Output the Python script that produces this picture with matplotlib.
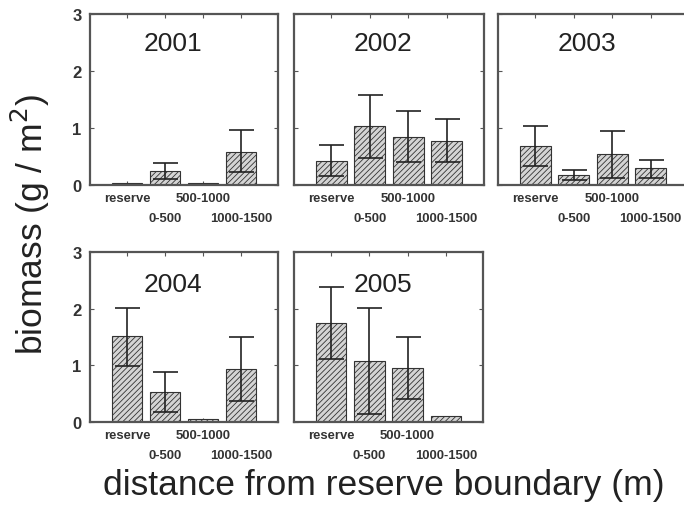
import matplotlib
matplotlib.use("Agg")
import matplotlib.pyplot as plt

plt.rcParams['font.family'] = ['Liberation Sans', 'DejaVu Sans']
plt.rcParams['hatch.linewidth'] = 0.6

# data
years = ['2001', '2002', '2003', '2004', '2005']
categories = ['reserve', '0-500', '500-1000', '1000-1500']
means = {
    '2001': [0.04, 0.25, 0.03, 0.58],
    '2002': [0.42, 1.03, 0.85, 0.78],
    '2003': [0.68, 0.17, 0.55, 0.29],
    '2004': [1.51, 0.53, 0.06, 0.93],
    '2005': [1.75, 1.07, 0.96, 0.11],
}
err_hi = {
    '2001': [0.00, 0.38, 0.00, 0.97],
    '2002': [0.71, 1.58, 1.30, 1.15],
    '2003': [1.04, 0.27, 0.94, 0.43],
    '2004': [2.02, 0.89, 0.00, 1.50],
    '2005': [2.38, 2.02, 1.50, 0.00],
}
err_lo = {
    '2001': [0.00, 0.10, 0.00, 0.22],
    '2002': [0.16, 0.47, 0.40, 0.40],
    '2003': [0.33, 0.09, 0.12, 0.12],
    '2004': [0.99, 0.18, 0.00, 0.37],
    '2005': [1.12, 0.14, 0.41, 0.00],
}

W, H = 684, 506
fig = plt.figure(figsize=(W / 100, H / 100), dpi=100)

# panel boxes in pixels: left, top, right, bottom
boxes = {
    '2001': (90, 15, 278, 186),
    '2002': (294, 15, 484, 186),
    '2003': (498, 15, 688, 186),
    '2004': (90, 253, 278, 423),
    '2005': (294, 253, 483, 423),
}
title_pos = {'2001': (0.44, 0.83), '2002': (0.47, 0.83), '2003': (0.47, 0.83),
             '2004': (0.44, 0.81), '2005': (0.47, 0.81)}

x = [1, 2, 3, 4]

for yr in years:
    l, t, r, b = boxes[yr]
    ax = fig.add_axes([l / W, 1 - b / H, (r - l) / W, (b - t) / H])
    m = means[yr]
    ax.bar(x, m, width=0.8, color='#d4d4d4', edgecolor='#333333',
           hatch='//////', linewidth=0.8, zorder=2)
    lo = [max(mi - e, 0) if e > 0 else 0 for mi, e in zip(m, err_lo[yr])]
    hi = [max(e - mi, 0) if e > 0 else 0 for mi, e in zip(m, err_hi[yr])]
    idx = [i for i in range(4) if err_hi[yr][i] > 0]
    ax.errorbar([x[i] for i in idx], [m[i] for i in idx],
                yerr=[[lo[i] for i in idx], [hi[i] for i in idx]],
                fmt='none', ecolor='#222222', elinewidth=1.2,
                capsize=9, capthick=1.2, zorder=3)
    ax.set_xlim(0.03, 4.97)
    ax.set_ylim(0, 3)
    ax.set_xticks(x)
    ax.set_xticklabels([])
    # staggered category labels
    ph = b - t
    for i, c in enumerate(categories):
        dy = -13 / ph if i % 2 == 0 else -33 / ph
        ax.text(x[i], dy, c, transform=ax.get_xaxis_transform(),
                ha='center', va='center', fontsize=9.4, fontweight='bold',
                color='#333333', clip_on=False)
    ax.set_yticks([0, 1, 2, 3])
    ax.tick_params(direction='in', top=True, right=True, length=3,
                   width=0.8, colors='#555555', labelcolor='#333333')
    if yr in ('2001', '2004'):
        ax.tick_params(axis='y', labelsize=12, pad=6)
        for lab in ax.get_yticklabels():
            lab.set_fontweight('bold')
    else:
        ax.set_yticklabels([])
    for sp in ax.spines.values():
        sp.set_color('#555555')
        sp.set_linewidth(1.6)
    tx, ty = title_pos[yr]
    ax.text(tx, ty, yr, transform=ax.transAxes, ha='center', va='center',
            fontsize=19, color='#222222', zorder=4)

fig.text(0.044, 0.557, 'biomass (g / m$^2$)', rotation=90, ha='center',
         va='center', fontsize=25.5, color='#222222')
fig.text(0.561, 1 - 495 / H, 'distance from reserve boundary (m)',
         ha='center', va='baseline', fontsize=25.5, color='#222222')

fig.savefig('out.png', dpi=100)
